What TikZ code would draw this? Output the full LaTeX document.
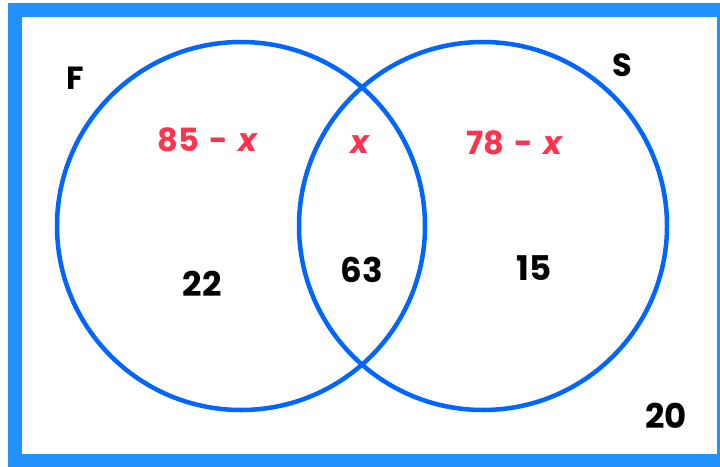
\documentclass[tikz,border=0pt]{standalone}
\usepackage{fontspec}
\setmainfont{Poppins}
\usetikzlibrary{positioning}
\definecolor{framblue}{RGB}{33, 145, 255}
\definecolor{setblue}{RGB}{0, 102, 255}
\definecolor{labelred}{RGB}{255, 51, 77}
\newcommand{\unk}{\textit{x}}

\begin{document}
\begin{tikzpicture}[
  x=1pt, y=-1pt,
  venn/.style={circle, draw=setblue, line width=4.5pt, minimum size=368pt, inner sep=0pt},
  setname/.style={font=\fontsize{32}{36}\selectfont\bfseries, text=black},
  count/.style={font=\fontsize{34}{38}\selectfont\bfseries, text=black},
  unknown/.style={font=\fontsize{32}{36}\selectfont\bfseries, text=labelred}
]

  \clip (0,0) rectangle (720,466);
  \useasboundingbox (0,0) rectangle (720,466);
  \draw[framblue, line width=14pt] (15,10) rectangle (724,461);

  \node[venn] (setF) at (241,226) {};
  \node[venn] (setS) at (483,226) {};

  \node[setname] (nameF) at (75,78) {F};
  \node[setname] (nameS) at (622,65) {S};

  \node[unknown] (onlyF) at (208,140) {85\,\,-\,\,\unk};
  \node[unknown] (both) at (361,145) {\unk};
  \node[unknown] (onlyS) at (515,143) {78\,\,-\,\,\unk};

  \node[count] (numF) at (202,284) {22};
  \node[count] (numFS) at (362,270) {63};
  \node[count] (numS) at (534,268) {15};
  \node[count] (numOut) at (666,416) {20};

\end{tikzpicture}
\end{document}
